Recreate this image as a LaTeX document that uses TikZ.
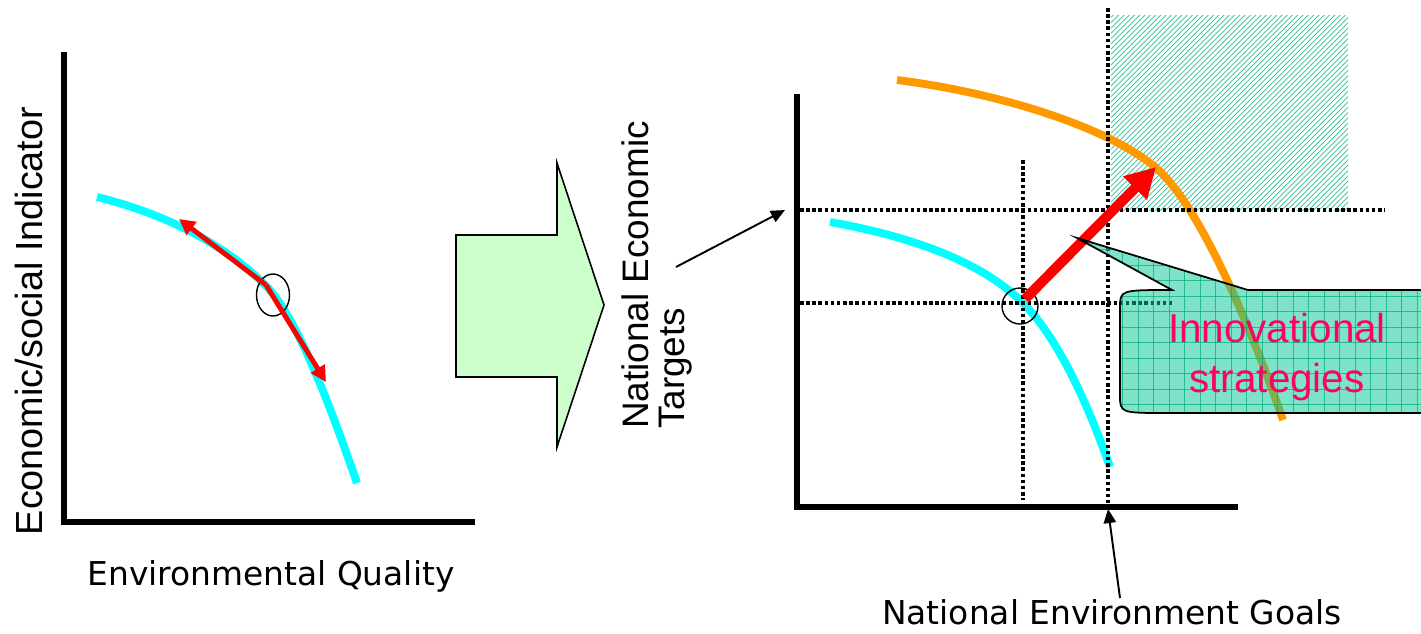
\documentclass[tikz,border=0pt]{standalone}
\usepackage{fontspec}
\setmainfont{Liberation Sans}
\newfontfamily\humanist{DejaVu Sans}
\usetikzlibrary{arrows.meta, patterns}

\definecolor{curvecyan}{RGB}{0,255,255}
\definecolor{curveorange}{RGB}{255,153,0}
\definecolor{shiftgreen}{RGB}{204,255,204}
\definecolor{hatchteal}{RGB}{40,195,150}
\definecolor{calloutteal}{RGB}{0,200,150}
\definecolor{gridteal}{RGB}{0,170,120}
\definecolor{textpink}{RGB}{255,0,102}

\begin{document}
\begin{tikzpicture}[x=0.02cm, y=-0.02cm,
    axis/.style={line width=2.9pt, line cap=rect},
    guide/.style={line width=2pt, dash pattern=on 2pt off 1.5pt},
    curve/.style={line width=4.5pt},
    pointer/.style={line width=1.1pt, -{Triangle[length=8pt,width=7pt]}},
    redarrow/.style={red, line width=2.8pt, -{Triangle[length=9pt,width=9pt]}},
    bigred/.style={red, line width=5.7pt, -{Triangle[length=17pt,width=18pt]}},
    arialtxt/.style={font=\fontsize{21.5}{21}\selectfont},
    tahomatxt/.style={font=\humanist\fontsize{18.7}{22}\selectfont}]
    \useasboundingbox (0,0) rectangle (1421,633);

    % left chart
    \draw[axis] (64,55) -- (64,522) -- (472,522);
    \node[arialtxt, rotate=90] (econind) at (29,321) {Economic/social Indicator};
    \node[tahomatxt] (envq) at (271,576) {Environmental Quality};
    \draw[curve, curvecyan] (97,197) .. controls (170,215) and (230,248) .. (268,288) .. controls (300,322) and (335,420) .. (357,483);
    \draw[thick] (273,295) ellipse (16.5 and 21);
    \coordinate (tanpt) at (266,285);
    \coordinate (tanup) at (179,219);
    \coordinate (tandown) at (326,382);
    \draw[redarrow] (tanpt) -- (tanup);
    \draw[redarrow] (tanpt) -- (tandown);

    % shift arrow
    \draw[fill=shiftgreen, line width=0.9pt] (456,235) -- (557,235) -- (557,163) -- (604,305) -- (557,447) -- (557,377) -- (456,377) -- cycle;

    % right chart
    \fill[pattern=north east lines, pattern color=hatchteal] (1111,15) rectangle (1348,210);
    \draw[axis] (797,97) -- (797,507) -- (1235,507);
    \node[arialtxt, rotate=90, align=left, font=\fontsize{21}{21}\selectfont] (ntarget) at (657,275) {National Economic\\Targets};
    \node[tahomatxt] (ngoal) at (1112,612) {National Environment Goals};
    \draw[curve, curvecyan] (830,222) .. controls (920,238) and (985,265) .. (1023,303) .. controls (1060,340) and (1090,410) .. (1110,467);
    \draw[curve, curveorange] (897,80) .. controls (1000,93) and (1107,127) .. (1155,167) .. controls (1195,200) and (1245,310) .. (1283,420);
    % guides
    \coordinate (ytop) at (800,210);  \coordinate (ytopend) at (1385,210);
    \coordinate (ylow) at (800,303);  \coordinate (ylowend) at (1172,303);
    \coordinate (xnow) at (1023,160); \coordinate (xnowend) at (1023,500);
    \coordinate (xgoal) at (1108,8);  \coordinate (xgoalend) at (1108,505);
    \draw[guide] (ytop) -- (ytopend);
    \draw[guide] (ylow) -- (ylowend);
    \draw[guide] (xnow) -- (xnowend);
    \draw[guide] (xgoal) -- (xgoalend);
    \draw[thick] (1020,306) circle (18);
    \coordinate (nowpt) at (1025,299);
    \coordinate (newpt) at (1156,167);
    \draw[bigred] (nowpt) -- (newpt);
    % labels to axes
    \coordinate (tgtfoot) at (676,267);  \coordinate (tgtmark) at (785,210);
    \coordinate (goalfoot) at (1120,598); \coordinate (goalmark) at (1108,509);
    \draw[pointer] (tgtfoot) -- (tgtmark);
    \draw[pointer] (goalfoot) -- (goalmark);

    % callout
    \begin{scope}
      \clip (1172,290) -- (1077,238) -- (1248,290) -- (1400,290) .. controls (1445,290) .. (1445,310) -- (1445,395) .. controls (1445,413) .. (1400,413) -- (1168,413) .. controls (1120,413) .. (1120,395) -- (1120,308) .. controls (1120,290) .. (1172,290);
      \fill[calloutteal, opacity=0.5] (1060,220) rectangle (1450,420);
      \foreach \gx in {1076,1091.5,...,1450} \draw[gridteal, opacity=0.7, line width=0.5pt] (\gx,220) -- (\gx,420);
      \foreach \gy in {234,249.5,...,420} \draw[gridteal, opacity=0.7, line width=0.5pt] (1060,\gy) -- (1450,\gy);
    \end{scope}
    \draw[line width=1pt] (1172,290) -- (1077,238) -- (1248,290) -- (1400,290) .. controls (1445,290) .. (1445,310) -- (1445,395) .. controls (1445,413) .. (1400,413) -- (1168,413) .. controls (1120,413) .. (1120,395) -- (1120,308) .. controls (1120,290) .. cycle;
    \node[textpink, align=center, font=\fontsize{23}{28.5}\selectfont] (innov) at (1277,357) {Innovational\\strategies};
\end{tikzpicture}
\end{document}
